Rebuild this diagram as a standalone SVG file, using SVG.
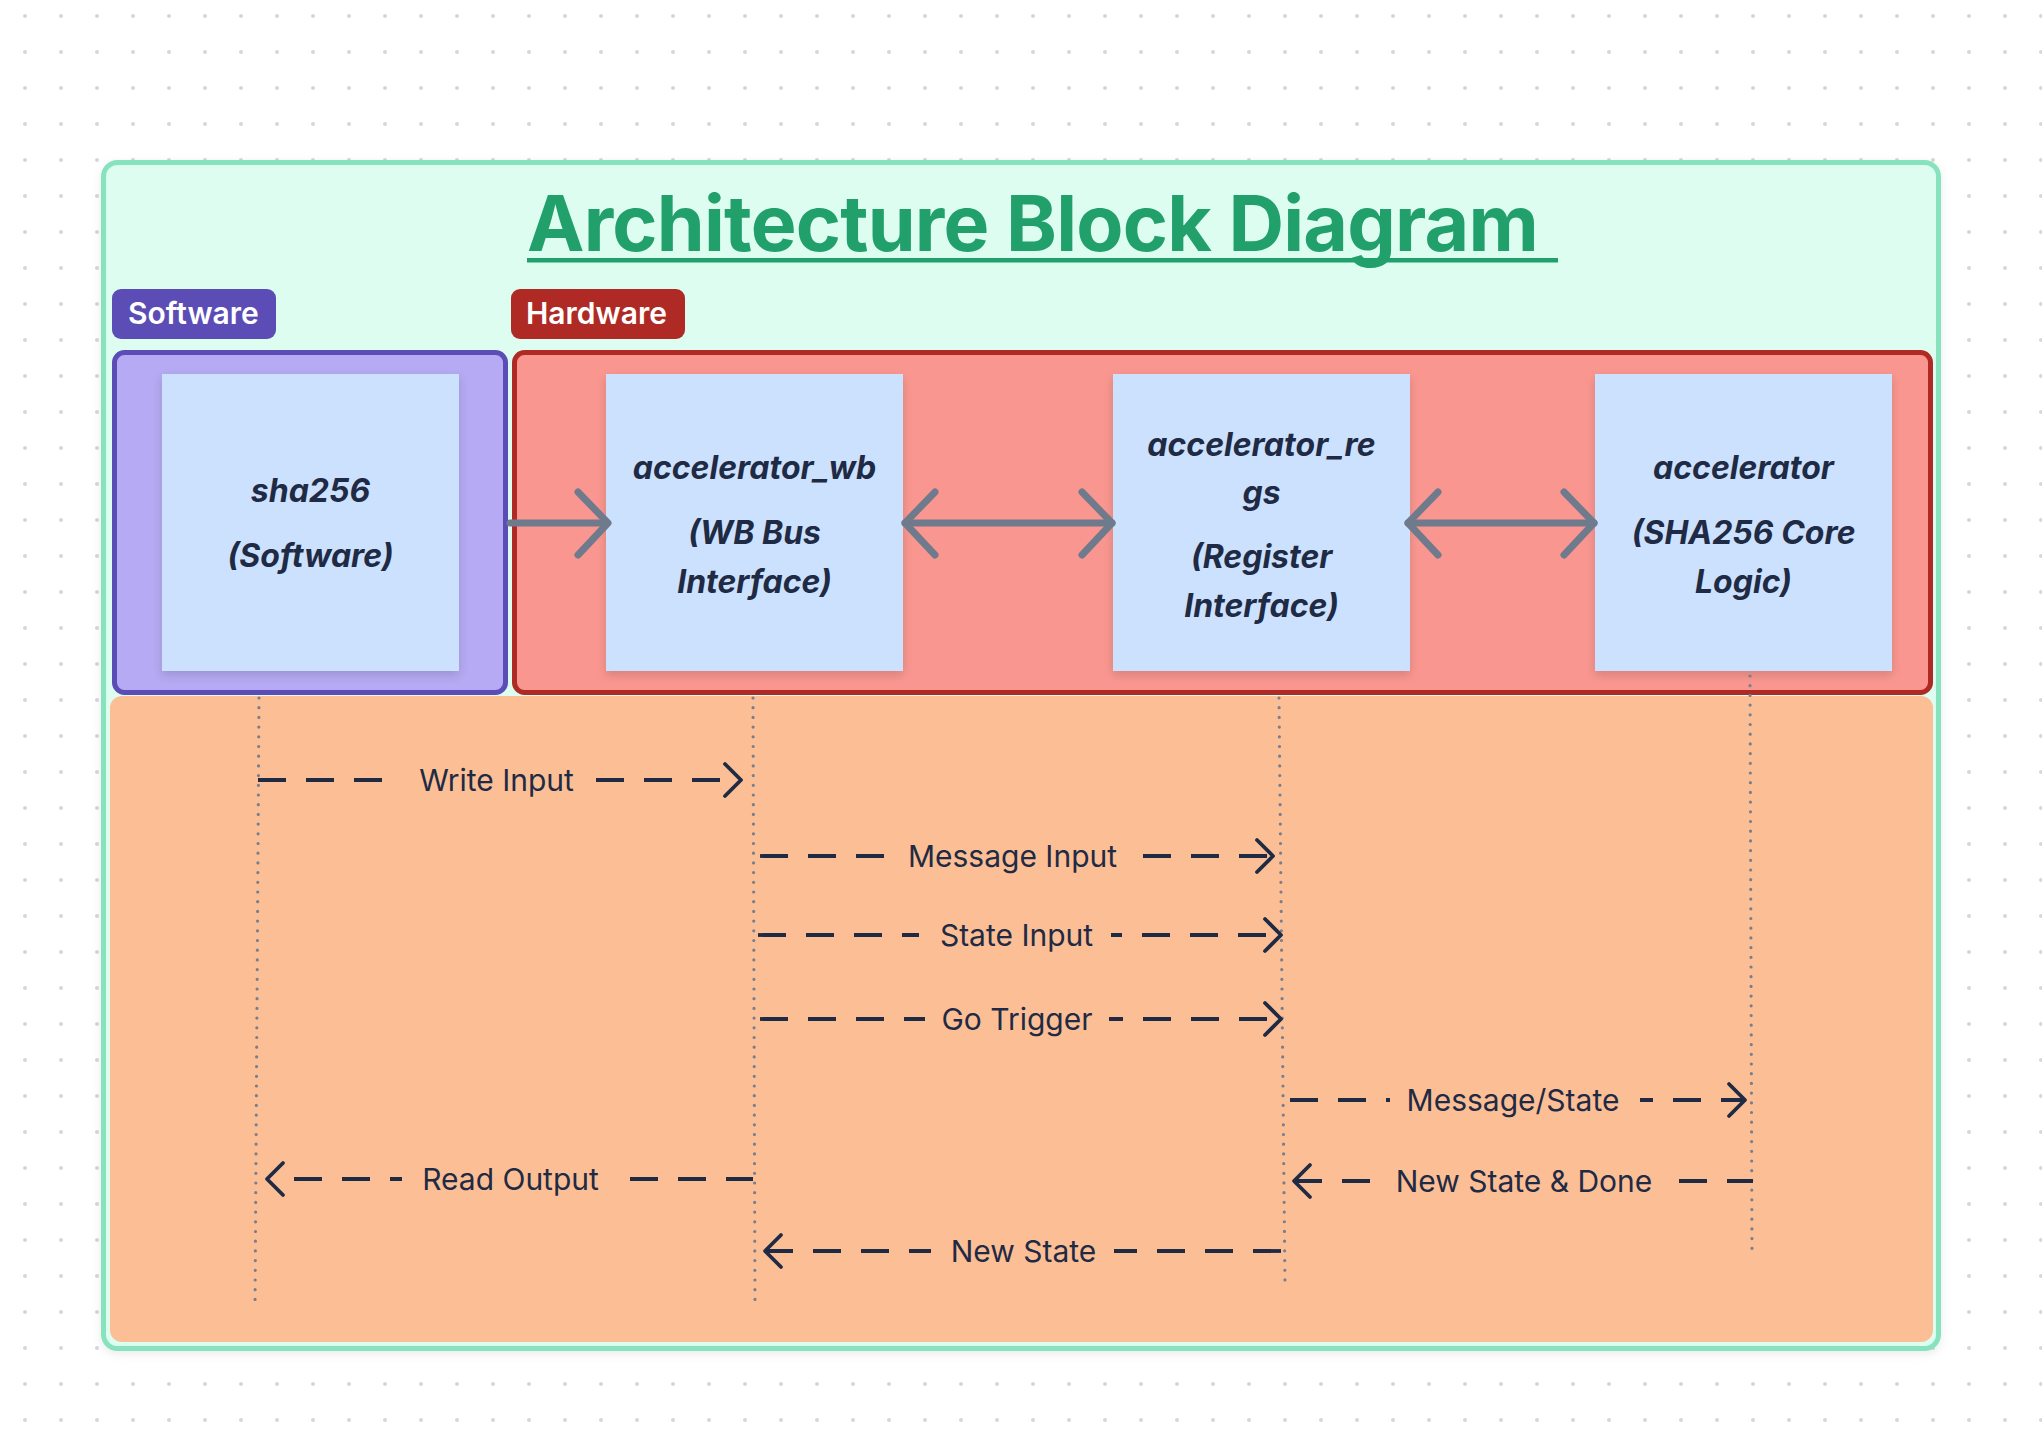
<svg xmlns="http://www.w3.org/2000/svg" width="2042" height="1452" viewBox="0 0 2042 1452">
<defs>
<pattern id="grid" patternUnits="userSpaceOnUse" x="7" y="-2" width="36" height="36"><circle cx="18" cy="18" r="2" fill="#D6D6DC"/></pattern>
<filter id="sh" x="-10%" y="-10%" width="120%" height="125%"><feDropShadow dx="0" dy="4" stdDeviation="5" flood-color="#000" flood-opacity="0.14"/></filter>
<filter id="sh2" x="-5%" y="-5%" width="110%" height="110%"><feDropShadow dx="0" dy="3" stdDeviation="5" flood-color="#000" flood-opacity="0.08"/></filter>
</defs>
<style>
.node rect{fill:#CCE1FD;filter:url(#sh)}
.nt{font-family:Inter,"Liberation Sans",sans-serif;font-weight:700;font-style:italic;font-size:32px;fill:#1F2A44;text-anchor:middle}
.lbl{font-family:Inter,"Liberation Sans",sans-serif;font-size:30px;fill:#1F2A44;text-anchor:middle}
.tag{font-family:Inter,"Liberation Sans",sans-serif;font-weight:600;font-size:30px;fill:#FFFFFF}
.life{stroke:#777E8E;stroke-width:3.2;stroke-linecap:round;stroke-dasharray:0 9.7;fill:none}
.msg{stroke:#1F2A44;stroke-width:3.8;stroke-dasharray:28 20;fill:none}
.head{stroke:#1F2A44;stroke-width:3.8;stroke-linecap:round;stroke-linejoin:round;fill:none}
.big{stroke:#6F7B8D;stroke-width:7;stroke-linecap:round;stroke-linejoin:round;fill:none}
</style>
<rect x="0" y="0" width="2042" height="1452" fill="#FFFFFF"/>
<rect x="0" y="0" width="2042" height="1452" fill="url(#grid)"/>
<g id="frame">
<rect x="103.5" y="162.5" width="1835" height="1186" rx="14" fill="#DCFDF0" stroke="#86E3BD" stroke-width="5" filter="url(#sh2)"/>
<text x="527" y="251" font-family="Inter,'Liberation Sans',sans-serif" font-weight="700" font-size="77" letter-spacing="-0.8" fill="#22A06B">Architecture Block Diagram</text>
<rect x="527" y="258" width="1031" height="4.5" fill="#22A06B"/>
</g>
<g id="software-tag">
<rect x="112" y="289" width="164" height="50" rx="9" fill="#5B4DB5"/>
<text class="tag" x="128" y="324">Software</text>
</g>
<g id="hardware-tag">
<rect x="511" y="289" width="174" height="50" rx="9" fill="#AF2A24"/>
<text class="tag" x="526" y="324">Hardware</text>
</g>
<g id="software-group">
<rect x="114.5" y="352.5" width="391" height="340" rx="10" fill="#B5AAF3" stroke="#5B4DB5" stroke-width="5"/>
</g>
<g id="hardware-group">
<rect x="514.5" y="352.5" width="1416" height="340" rx="10" fill="#F9968F" stroke="#AF2A24" stroke-width="5"/>
</g>
<g id="sequence-area">
<rect x="110" y="696" width="1823" height="646" rx="12" fill="#FCBF95"/>
</g>
<g id="sha256" class="node">
<rect x="162" y="374" width="297" height="297"/>
<text class="nt" x="310.5" y="502">sha256</text>
<text class="nt" x="310.5" y="567">(Software)</text>
</g>
<g id="accelerator_wb" class="node">
<rect x="606" y="374" width="297" height="297"/>
<text class="nt" x="754.5" y="479">accelerator_wb</text>
<text class="nt" x="754.5" y="544">(WB Bus</text>
<text class="nt" x="754.5" y="593">Interface)</text>
</g>
<g id="accelerator_regs" class="node">
<rect x="1113" y="374" width="297" height="297"/>
<text class="nt" x="1261.5" y="456">accelerator_re</text>
<text class="nt" x="1261.5" y="504">gs</text>
<text class="nt" x="1261.5" y="568">(Register</text>
<text class="nt" x="1261.5" y="617">Interface)</text>
</g>
<g id="accelerator" class="node">
<rect x="1595" y="374" width="297" height="297"/>
<text class="nt" x="1743.5" y="479">accelerator</text>
<text class="nt" x="1743.5" y="544">(SHA256 Core</text>
<text class="nt" x="1743.5" y="593">Logic)</text>
</g>
<g id="connectors">
<line class="big" x1="510" y1="523" x2="607" y2="523"/>
<polyline class="big" points="578,492 608,523 578,555"/>
<line class="big" x1="905" y1="523" x2="1112" y2="523"/>
<polyline class="big" points="935,492 905,523 935,555"/>
<polyline class="big" points="1082,492 1112,523 1082,555"/>
<line class="big" x1="1408" y1="523" x2="1594" y2="523"/>
<polyline class="big" points="1438,492 1408,523 1438,555"/>
<polyline class="big" points="1564,492 1594,523 1564,555"/>

<line class="life" x1="259" y1="698" x2="255" y2="1307"/>
<line class="life" x1="753" y1="698" x2="755" y2="1307"/>
<line class="life" x1="1279" y1="698" x2="1285" y2="1286"/>
<line class="life" x1="1750" y1="676" x2="1752" y2="1251"/>

<line class="msg" x1="258" y1="780" x2="386" y2="780"/>
<line class="msg" x1="596" y1="780" x2="740" y2="780"/>
<polyline class="head" points="725,764 741,780 725,796"/>
<text class="lbl" x="496.5" y="791">Write Input</text>

<line class="msg" x1="760" y1="856" x2="884" y2="856"/>
<line class="msg" x1="1143" y1="856" x2="1273" y2="856"/>
<polyline class="head" points="1257,840 1273,856 1257,872"/>
<text class="lbl" x="1012.5" y="867">Message Input</text>

<line class="msg" x1="758" y1="935" x2="919" y2="935"/>
<line class="msg" x1="1111" y1="935" x2="1281" y2="935" stroke-dashoffset="17"/>
<polyline class="head" points="1265,919 1281,935 1265,951"/>
<text class="lbl" x="1016.5" y="946">State Input</text>

<line class="msg" x1="760" y1="1019" x2="925" y2="1019"/>
<line class="msg" x1="1109" y1="1019" x2="1281" y2="1019" stroke-dashoffset="14"/>
<polyline class="head" points="1265,1003 1281,1019 1265,1035"/>
<text class="lbl" x="1017" y="1030">Go Trigger</text>

<line class="msg" x1="1290" y1="1100" x2="1390" y2="1100"/>
<line class="msg" x1="1640" y1="1100" x2="1745" y2="1100" stroke-dashoffset="15"/>
<polyline class="head" points="1729,1084 1745,1100 1729,1116"/>
<text class="lbl" x="1513" y="1111">Message/State</text>

<line class="msg" x1="1294" y1="1181" x2="1371" y2="1181"/>
<line class="msg" x1="1679" y1="1181" x2="1753" y2="1181"/>
<polyline class="head" points="1310,1165 1294,1181 1310,1197"/>
<text class="lbl" x="1524" y="1192">New State &amp; Done</text>

<polyline class="head" points="283,1163 267,1179 283,1195"/>
<line class="msg" x1="294" y1="1179" x2="402" y2="1179"/>
<line class="msg" x1="630" y1="1179" x2="753" y2="1179"/>
<text class="lbl" x="510.5" y="1190">Read Output</text>

<line class="msg" x1="765" y1="1251" x2="931" y2="1251"/>
<line class="msg" x1="1114" y1="1251" x2="1282" y2="1251" stroke-dashoffset="5"/>
<polyline class="head" points="781,1235 765,1251 781,1267"/>
<text class="lbl" x="1023.5" y="1262">New State</text>
</g>
</svg>
